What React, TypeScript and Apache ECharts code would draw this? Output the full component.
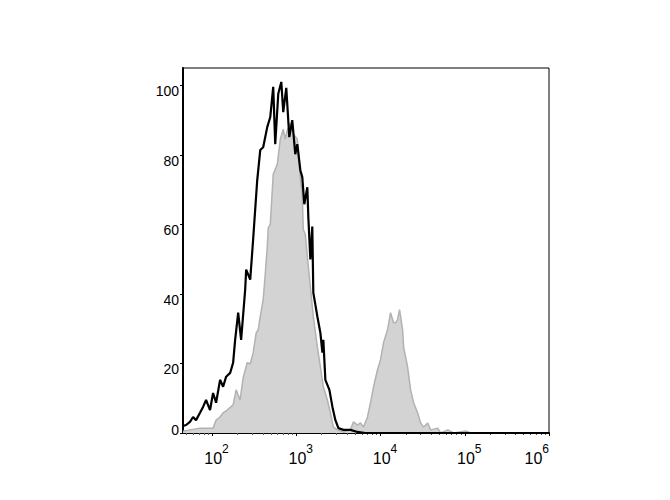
import React, { useEffect, useRef } from "react";
import * as echarts from "echarts";

// log10 of fluorescence intensity (x) and count (% of max, y)
const unstainedLog = [1.655, 1.691, 1.738, 1.774, 1.81, 1.857, 1.893, 1.929, 1.976, 2.012, 2.048, 2.095, 2.131, 2.167, 2.215, 2.25, 2.274, 2.31, 2.345, 2.393, 2.405, 2.453, 2.488, 2.536, 2.572, 2.607, 2.655, 2.691, 2.726, 2.75, 2.786, 2.822, 2.845, 2.881, 2.917, 2.952, 2.988, 3.012, 3.048, 3.071, 3.095, 3.131, 3.143, 3.167, 3.19, 3.202, 3.25, 3.286, 3.31, 3.321, 3.345, 3.393, 3.429, 3.464, 3.5, 3.56, 3.643, 3.726, 3.821, 6.0];
const unstainedCount = [2.0, 2.3, 3.2, 4.6, 3.7, 5.8, 7.5, 9.5, 6.6, 11.5, 8.7, 15.3, 13.3, 16.2, 17.3, 20.2, 26.8, 34.6, 26.8, 41.2, 47.0, 44.1, 55.8, 72.7, 81.4, 82.2, 88.0, 90.9, 99.6, 83.1, 97.6, 101.0, 92.3, 99.3, 85.1, 90.0, 80.2, 83.1, 75.6, 73.6, 65.8, 70.7, 62.0, 49.9, 59.4, 40.4, 33.5, 28.8, 23.1, 26.8, 15.3, 12.4, 7.5, 3.7, 1.4, 0.9, 0.9, 0.3, 0, 0];

const stainedLog = [1.655, 1.738, 1.857, 2.012, 2.048, 2.095, 2.131, 2.179, 2.25, 2.286, 2.333, 2.369, 2.417, 2.453, 2.488, 2.524, 2.548, 2.572, 2.607, 2.631, 2.655, 2.667, 2.691, 2.726, 2.774, 2.81, 2.845, 2.869, 2.893, 2.929, 2.964, 3.012, 3.024, 3.048, 3.071, 3.083, 3.107, 3.131, 3.167, 3.202, 3.25, 3.286, 3.321, 3.369, 3.405, 3.44, 3.488, 3.56, 3.643, 3.679, 3.726, 3.762, 3.798, 3.845, 3.881, 3.917, 3.964, 4.0, 4.036, 4.083, 4.119, 4.155, 4.179, 4.202, 4.226, 4.262, 4.274, 4.321, 4.357, 4.393, 4.44, 4.476, 4.512, 4.56, 4.595, 4.679, 4.714, 4.798, 4.869, 5.012, 5.07, 6.0];
const stainedCount = [0.5, 0.9, 1.4, 1.4, 3.7, 4.6, 5.8, 6.6, 8.1, 12.4, 9.5, 15.9, 20.2, 19.9, 23.1, 28.8, 29.7, 33.5, 38.4, 45.6, 53.4, 59.1, 60.0, 74.4, 77.3, 84.5, 87.4, 84.5, 87.1, 89.1, 86.0, 84.5, 81.3, 73.0, 68.6, 58.6, 57.1, 50.8, 42.1, 33.5, 24.8, 19.0, 13.3, 9.5, 5.8, 1.7, 0.9, 0.3, 0.9, 3.2, 2.3, 2.9, 1.7, 4.6, 8.7, 13.3, 18.2, 21.1, 26.0, 29.7, 34.6, 31.7, 31.7, 32.6, 35.5, 29.7, 24.8, 19.0, 12.4, 8.7, 5.8, 2.9, 1.7, 2.9, 0.9, 1.4, 0, 0.9, 0, 0.6, 0, 0];

const xMajorTicks = [2, 3, 4, 5, 6];
const yTicks = [0, 20, 40, 60, 80, 100];

const X_MIN = 1.655;
const X_MAX = 6;

const minorTicks: number[] = [];
for (let d = 1; d <= 5; d++) {
  for (let k = 2; k <= 9; k++) {
    const v = d + Math.log10(k);
    if (v > X_MIN && v < X_MAX) minorTicks.push(v);
  }
}

const FONT = "'Liberation Sans', Arial, sans-serif";

export default function App() {
  const ref = useRef<HTMLDivElement>(null);
  useEffect(() => {
    if (!ref.current) return;
    const chart = echarts.init(ref.current, undefined, { renderer: "svg" });
    chart.setOption({
      animation: false,
      backgroundColor: "#fff",
      grid: {
        left: 183,
        right: 121,
        top: 68,
        bottom: 67,
        show: true,
        borderColor: "#000",
        borderWidth: 1,
        backgroundColor: "transparent",
      },
      xAxis: [
        {
          type: "value",
          min: X_MIN,
          max: X_MAX,
          axisLine: { show: true, lineStyle: { color: "#000", width: 2 } },
          axisTick: { show: true, customValues: xMajorTicks, length: 3, lineStyle: { color: "#000" } },
          splitLine: { show: false },
          axisLabel: {
            customValues: xMajorTicks,
            margin: 10,
            padding: [0, 0, 0, 9],
            alignMaxLabel: "right",
            formatter: (v: number) => `{b|10}{s|${Math.round(v)}}`,
            rich: {
              b: { fontSize: 16, fontFamily: FONT, color: "#000", lineHeight: 30 },
              s: { fontSize: 12, fontFamily: FONT, color: "#000", verticalAlign: "top", lineHeight: 12 },
            },
          },
        },
        {
          type: "value",
          min: X_MIN,
          max: X_MAX,
          position: "bottom",
          axisLine: { show: false },
          axisTick: { show: true, customValues: minorTicks, length: 2, lineStyle: { color: "#555" } },
          axisLabel: { show: false },
          splitLine: { show: false },
        },
      ],
      yAxis: {
        type: "value",
        min: 0,
        max: 105,
        axisLine: { show: true, lineStyle: { color: "#000", width: 2 } },
        axisTick: { show: true, customValues: yTicks, length: 3, lineStyle: { color: "#000" } },
        splitLine: { show: false },
        axisLabel: {
          customValues: yTicks,
          margin: 4,
          formatter: (v: number) => (v === 0 ? `{z|${v}}` : `{a|${v}}`),
          rich: {
            a: { fontSize: 14, fontFamily: FONT, color: "#000", padding: [12, 0, 0, 0] },
            z: { fontSize: 14, fontFamily: FONT, color: "#000", padding: [0, 0, 7, 0] },
          },
        },
      },
      series: [
        {
          type: "line",
          data: stainedLog.map((x, i) => [x, stainedCount[i]]),
          symbol: "none",
          lineStyle: { color: "#b2b2b2", width: 1.5 },
          areaStyle: { color: "#d3d3d3", opacity: 1 },
          z: 2,
        },
        {
          type: "line",
          data: unstainedLog.map((x, i) => [x, unstainedCount[i]]),
          symbol: "none",
          lineStyle: { color: "#000", width: 2.2 },
          z: 3,
        },
      ],
    });
    return () => chart.dispose();
  }, []);
  return (
    <div
      ref={ref}
      style={{ position: "fixed", left: 0, top: 0, width: 670, height: 500 }}
    />
  );
}
